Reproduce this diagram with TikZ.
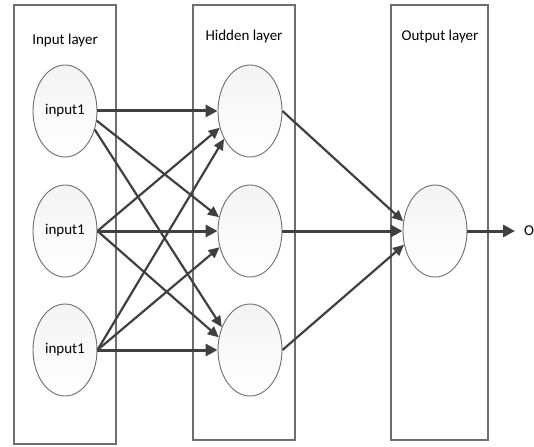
\documentclass[tikz,border=0pt]{standalone}
\usepackage{fontspec}
\setmainfont{Carlito}
\usetikzlibrary{arrows.meta,shapes.geometric}
\definecolor{arr}{HTML}{404040}
\definecolor{edgecol}{HTML}{6E6E6E}
\begin{document}
\begin{tikzpicture}[x=1pt,y=-1pt,
  layerbox/.style={draw=edgecol,line width=1.1pt},
  neuron/.style={ellipse,draw=edgecol,line width=0.9pt,minimum width=64pt,minimum height=92pt,inner sep=0pt,top color=gray!9,bottom color=white,font=\fontsize{15}{17}\selectfont},
  lbl/.style={font=\fontsize{15}{17}\selectfont,anchor=base,inner sep=0pt},
  bigarrow/.style={draw=arr,line width=3pt,-{Triangle[length=12pt,width=12pt]}},
  smallarrow/.style={draw=arr,line width=2.2pt,-{Triangle[length=11pt,width=10pt]}}]
\useasboundingbox (0,0) rectangle (534,446);
% layer boxes
\draw[layerbox] (14,5) rectangle (116,444);
\draw[layerbox] (193,5) rectangle (295,440);
\draw[layerbox] (391,5) rectangle (488,440);
% labels
\node[lbl] (linput) at (65,45) {Input layer};
\node[lbl] (lhidden) at (244,41) {Hidden layer};
\node[lbl] (loutput) at (440,41) {Output layer};
% neurons
\node[neuron] (i1) at (65,111) {input1};
\node[neuron] (i2) at (65,231) {input1};
\node[neuron] (i3) at (65,350) {input1};
\node[neuron] (h1) at (250,111) {};
\node[neuron] (h2) at (250,231) {};
\node[neuron] (h3) at (250,350) {};
\node[neuron] (o) at (435,231) {};
\node[lbl,anchor=west] (out) at (524,231) {O};
% input -> hidden
\draw[bigarrow] (i1.east) -- (h1.west);
\draw[smallarrow] (i1.-17) -- (h2.156);
\draw[smallarrow] (i1.-32) -- (h3.141);
\draw[smallarrow] (i2.east) -- (h1.209);
\draw[bigarrow] (i2.east) -- (h2.west);
\draw[smallarrow] (i2.east) -- (h3.158);
\draw[smallarrow] (i3.east) -- (h1.227);
\draw[smallarrow] (i3.east) -- (h2.208);
\draw[bigarrow] (i3.east) -- (h3.west);
% hidden -> output
\draw[smallarrow] (h1.east) -- (o.163);
\draw[bigarrow] (h2.east) -- (o.west);
\draw[smallarrow] (h3.east) -- (o.204);
% output
\draw[bigarrow] (o.east) -- ([xshift=-9pt]out.west);
\end{tikzpicture}
\end{document}
